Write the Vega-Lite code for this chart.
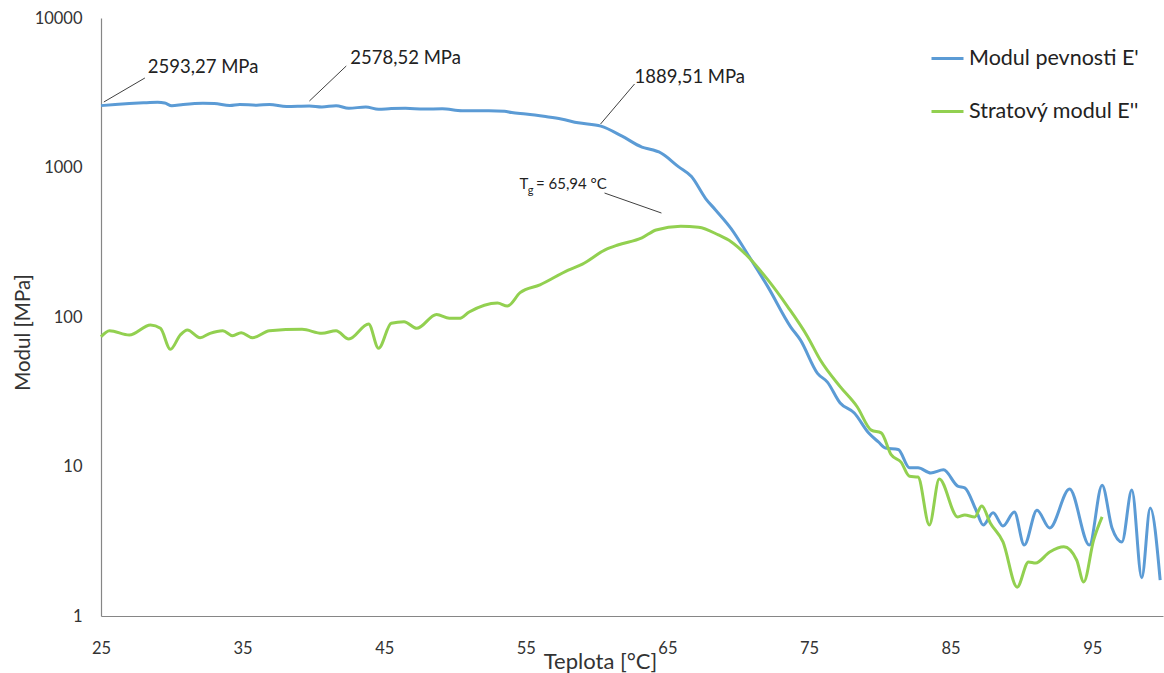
{
  "$schema": "https://vega.github.io/schema/vega-lite/v6.json",
  "width": 1062,
  "height": 598,
  "autosize": {"type": "none"},
  "padding": {"left": 101, "top": 18, "right": 1, "bottom": 57},
  "background": "white",
  "config": {
    "view": {"stroke": null},
    "font": "Lato",
    "axis": {
      "grid": false,
      "ticks": false,
      "domainColor": "#868686",
      "domainWidth": 1.2,
      "labelFont": "Lato",
      "labelFontSize": 16.5,
      "labelColor": "#333333",
      "labelFlush": false,
      "labelOverlap": false,
      "titleFont": "Lato",
      "titleFontWeight": "normal",
      "titleColor": "#333333"
    },
    "legend": {
      "labelFont": "Lato",
      "labelFontSize": 21.5,
      "labelColor": "#222222",
      "labelLimit": 0
    }
  },
  "datasets": {
    "moduly": [
      {"T": 25.0, "E": 2593.27, "serie": "Modul pevnosti E'"},
      {"T": 26.0, "E": 2640, "serie": "Modul pevnosti E'"},
      {"T": 27.0, "E": 2680, "serie": "Modul pevnosti E'"},
      {"T": 28.0, "E": 2710, "serie": "Modul pevnosti E'"},
      {"T": 29.0, "E": 2730, "serie": "Modul pevnosti E'"},
      {"T": 29.5, "E": 2700, "serie": "Modul pevnosti E'"},
      {"T": 30.0, "E": 2590, "serie": "Modul pevnosti E'"},
      {"T": 30.8, "E": 2640, "serie": "Modul pevnosti E'"},
      {"T": 32.2, "E": 2690, "serie": "Modul pevnosti E'"},
      {"T": 33.0, "E": 2680, "serie": "Modul pevnosti E'"},
      {"T": 34.1, "E": 2600, "serie": "Modul pevnosti E'"},
      {"T": 34.8, "E": 2640, "serie": "Modul pevnosti E'"},
      {"T": 36.0, "E": 2610, "serie": "Modul pevnosti E'"},
      {"T": 36.9, "E": 2640, "serie": "Modul pevnosti E'"},
      {"T": 38.1, "E": 2560, "serie": "Modul pevnosti E'"},
      {"T": 39.7, "E": 2578.52, "serie": "Modul pevnosti E'"},
      {"T": 40.6, "E": 2540, "serie": "Modul pevnosti E'"},
      {"T": 41.6, "E": 2590, "serie": "Modul pevnosti E'"},
      {"T": 42.5, "E": 2490, "serie": "Modul pevnosti E'"},
      {"T": 43.7, "E": 2540, "serie": "Modul pevnosti E'"},
      {"T": 44.6, "E": 2450, "serie": "Modul pevnosti E'"},
      {"T": 45.5, "E": 2480, "serie": "Modul pevnosti E'"},
      {"T": 46.5, "E": 2490, "serie": "Modul pevnosti E'"},
      {"T": 47.8, "E": 2460, "serie": "Modul pevnosti E'"},
      {"T": 49.1, "E": 2470, "serie": "Modul pevnosti E'"},
      {"T": 50.5, "E": 2400, "serie": "Modul pevnosti E'"},
      {"T": 52.4, "E": 2400, "serie": "Modul pevnosti E'"},
      {"T": 53.5, "E": 2380, "serie": "Modul pevnosti E'"},
      {"T": 54.0, "E": 2330, "serie": "Modul pevnosti E'"},
      {"T": 55.0, "E": 2280, "serie": "Modul pevnosti E'"},
      {"T": 56.4, "E": 2190, "serie": "Modul pevnosti E'"},
      {"T": 57.5, "E": 2110, "serie": "Modul pevnosti E'"},
      {"T": 58.7, "E": 1990, "serie": "Modul pevnosti E'"},
      {"T": 60.3, "E": 1889.51, "serie": "Modul pevnosti E'"},
      {"T": 61.8, "E": 1620, "serie": "Modul pevnosti E'"},
      {"T": 63.2, "E": 1370, "serie": "Modul pevnosti E'"},
      {"T": 64.0, "E": 1310, "serie": "Modul pevnosti E'"},
      {"T": 64.4, "E": 1270, "serie": "Modul pevnosti E'"},
      {"T": 65.8, "E": 1010, "serie": "Modul pevnosti E'"},
      {"T": 66.7, "E": 870, "serie": "Modul pevnosti E'"},
      {"T": 67.7, "E": 620, "serie": "Modul pevnosti E'"},
      {"T": 68.4, "E": 520, "serie": "Modul pevnosti E'"},
      {"T": 69.5, "E": 390, "serie": "Modul pevnosti E'"},
      {"T": 70.7, "E": 260, "serie": "Modul pevnosti E'"},
      {"T": 72.1, "E": 159, "serie": "Modul pevnosti E'"},
      {"T": 73.7, "E": 86, "serie": "Modul pevnosti E'"},
      {"T": 74.4, "E": 70, "serie": "Modul pevnosti E'"},
      {"T": 75.6, "E": 42, "serie": "Modul pevnosti E'"},
      {"T": 76.3, "E": 36.7, "serie": "Modul pevnosti E'"},
      {"T": 77.2, "E": 26.6, "serie": "Modul pevnosti E'"},
      {"T": 78.2, "E": 22.8, "serie": "Modul pevnosti E'"},
      {"T": 79.2, "E": 16.8, "serie": "Modul pevnosti E'"},
      {"T": 79.9, "E": 14.6, "serie": "Modul pevnosti E'"},
      {"T": 80.4, "E": 13.3, "serie": "Modul pevnosti E'"},
      {"T": 81.3, "E": 13.0, "serie": "Modul pevnosti E'"},
      {"T": 82.1, "E": 9.8, "serie": "Modul pevnosti E'"},
      {"T": 82.7, "E": 9.8, "serie": "Modul pevnosti E'"},
      {"T": 83.6, "E": 9.05, "serie": "Modul pevnosti E'"},
      {"T": 84.5, "E": 9.5, "serie": "Modul pevnosti E'"},
      {"T": 85.5, "E": 7.4, "serie": "Modul pevnosti E'"},
      {"T": 86.0, "E": 7.2, "serie": "Modul pevnosti E'"},
      {"T": 86.8, "E": 5.1, "serie": "Modul pevnosti E'"},
      {"T": 87.3, "E": 4.06, "serie": "Modul pevnosti E'"},
      {"T": 88.0, "E": 4.9, "serie": "Modul pevnosti E'"},
      {"T": 88.7, "E": 4.0, "serie": "Modul pevnosti E'"},
      {"T": 89.5, "E": 4.96, "serie": "Modul pevnosti E'"},
      {"T": 90.2, "E": 2.98, "serie": "Modul pevnosti E'"},
      {"T": 91.1, "E": 5.1, "serie": "Modul pevnosti E'"},
      {"T": 92.0, "E": 3.88, "serie": "Modul pevnosti E'"},
      {"T": 93.4, "E": 7.07, "serie": "Modul pevnosti E'"},
      {"T": 94.8, "E": 2.98, "serie": "Modul pevnosti E'"},
      {"T": 95.7, "E": 7.5, "serie": "Modul pevnosti E'"},
      {"T": 96.4, "E": 3.88, "serie": "Modul pevnosti E'"},
      {"T": 97.1, "E": 3.13, "serie": "Modul pevnosti E'"},
      {"T": 97.8, "E": 6.96, "serie": "Modul pevnosti E'"},
      {"T": 98.5, "E": 1.8, "serie": "Modul pevnosti E'"},
      {"T": 99.1, "E": 5.28, "serie": "Modul pevnosti E'"},
      {"T": 99.8, "E": 1.74, "serie": "Modul pevnosti E'"},

      {"T": 25.0, "E": 73.8, "serie": "Stratový modul E''"},
      {"T": 25.6, "E": 81, "serie": "Stratový modul E''"},
      {"T": 27.0, "E": 75.8, "serie": "Stratový modul E''"},
      {"T": 28.5, "E": 88.4, "serie": "Stratový modul E''"},
      {"T": 29.2, "E": 84, "serie": "Stratový modul E''"},
      {"T": 29.9, "E": 60.8, "serie": "Stratový modul E''"},
      {"T": 30.6, "E": 75.8, "serie": "Stratový modul E''"},
      {"T": 31.1, "E": 81.9, "serie": "Stratový modul E''"},
      {"T": 32.0, "E": 72.7, "serie": "Stratový modul E''"},
      {"T": 32.7, "E": 77.8, "serie": "Stratový modul E''"},
      {"T": 33.6, "E": 81, "serie": "Stratový modul E''"},
      {"T": 34.3, "E": 75, "serie": "Stratový modul E''"},
      {"T": 34.9, "E": 78.5, "serie": "Stratový modul E''"},
      {"T": 35.7, "E": 72.7, "serie": "Stratový modul E''"},
      {"T": 36.9, "E": 81, "serie": "Stratový modul E''"},
      {"T": 39.2, "E": 82.7, "serie": "Stratový modul E''"},
      {"T": 40.6, "E": 77.8, "serie": "Stratový modul E''"},
      {"T": 41.6, "E": 81, "serie": "Stratový modul E''"},
      {"T": 42.5, "E": 71.2, "serie": "Stratový modul E''"},
      {"T": 43.9, "E": 89.8, "serie": "Stratový modul E''"},
      {"T": 44.6, "E": 61.7, "serie": "Stratový modul E''"},
      {"T": 45.5, "E": 90.8, "serie": "Stratový modul E''"},
      {"T": 46.4, "E": 93, "serie": "Stratový modul E''"},
      {"T": 47.3, "E": 84, "serie": "Stratový modul E''"},
      {"T": 48.7, "E": 104, "serie": "Stratový modul E''"},
      {"T": 49.6, "E": 98, "serie": "Stratový modul E''"},
      {"T": 50.3, "E": 98, "serie": "Stratový modul E''"},
      {"T": 51.0, "E": 108, "serie": "Stratový modul E''"},
      {"T": 53.0, "E": 124, "serie": "Stratový modul E''"},
      {"T": 53.7, "E": 118.5, "serie": "Stratový modul E''"},
      {"T": 54.6, "E": 145.5, "serie": "Stratový modul E''"},
      {"T": 56.0, "E": 164, "serie": "Stratový modul E''"},
      {"T": 58.0, "E": 206, "serie": "Stratový modul E''"},
      {"T": 59.0, "E": 226, "serie": "Stratový modul E''"},
      {"T": 60.6, "E": 281, "serie": "Stratový modul E''"},
      {"T": 61.5, "E": 303, "serie": "Stratový modul E''"},
      {"T": 63.2, "E": 338, "serie": "Stratový modul E''"},
      {"T": 64.2, "E": 382, "serie": "Stratový modul E''"},
      {"T": 65.94, "E": 404, "serie": "Stratový modul E''"},
      {"T": 67.2, "E": 398, "serie": "Stratový modul E''"},
      {"T": 68.6, "E": 354, "serie": "Stratový modul E''"},
      {"T": 69.5, "E": 319, "serie": "Stratový modul E''"},
      {"T": 70.7, "E": 253, "serie": "Stratový modul E''"},
      {"T": 72.1, "E": 177, "serie": "Stratový modul E''"},
      {"T": 73.5, "E": 117, "serie": "Stratový modul E''"},
      {"T": 74.9, "E": 73.8, "serie": "Stratový modul E''"},
      {"T": 75.8, "E": 51.5, "serie": "Stratový modul E''"},
      {"T": 77.2, "E": 34.2, "serie": "Stratový modul E''"},
      {"T": 78.4, "E": 25.1, "serie": "Stratový modul E''"},
      {"T": 79.4, "E": 17.5, "serie": "Stratový modul E''"},
      {"T": 80.1, "E": 16.8, "serie": "Stratový modul E''"},
      {"T": 80.8, "E": 12.0, "serie": "Stratový modul E''"},
      {"T": 81.5, "E": 10.7, "serie": "Stratový modul E''"},
      {"T": 82.1, "E": 8.6, "serie": "Stratový modul E''"},
      {"T": 82.7, "E": 8.5, "serie": "Stratový modul E''"},
      {"T": 83.5, "E": 4.06, "serie": "Stratový modul E''"},
      {"T": 84.2, "E": 8.25, "serie": "Stratový modul E''"},
      {"T": 85.5, "E": 4.6, "serie": "Stratový modul E''"},
      {"T": 86.0, "E": 4.74, "serie": "Stratový modul E''"},
      {"T": 86.7, "E": 4.6, "serie": "Stratový modul E''"},
      {"T": 87.2, "E": 5.44, "serie": "Stratový modul E''"},
      {"T": 87.8, "E": 4.19, "serie": "Stratový modul E''"},
      {"T": 88.7, "E": 3.13, "serie": "Stratový modul E''"},
      {"T": 89.7, "E": 1.56, "serie": "Stratový modul E''"},
      {"T": 90.5, "E": 2.3, "serie": "Stratový modul E''"},
      {"T": 91.0, "E": 2.26, "serie": "Stratový modul E''"},
      {"T": 92.0, "E": 2.68, "serie": "Stratový modul E''"},
      {"T": 93.0, "E": 2.9, "serie": "Stratový modul E''"},
      {"T": 93.9, "E": 2.37, "serie": "Stratový modul E''"},
      {"T": 94.4, "E": 1.69, "serie": "Stratový modul E''"},
      {"T": 95.1, "E": 3.22, "serie": "Stratový modul E''"},
      {"T": 95.7, "E": 4.6, "serie": "Stratový modul E''"}
    ],
    "odkazy": [
      {"T": 25.2, "E": 2743, "T2": 28.1, "E2": 3970},
      {"T": 39.72, "E": 2786, "T2": 42.32, "E2": 4775},
      {"T": 60.28, "E": 1954, "T2": 62.68, "E2": 3620},
      {"T": 60.56, "E": 675, "T2": 64.58, "E2": 496}
    ],
    "popisky": [
      {"T": 28.31, "E": 4700, "text": "2593,27 MPa"},
      {"T": 42.61, "E": 5400, "text": "2578,52 MPa"},
      {"T": 62.68, "E": 4030, "text": "1889,51 MPa"}
    ]
  },
  "encoding": {
    "x": {
      "field": "T",
      "type": "quantitative",
      "scale": {"domain": [25, 100], "nice": false, "zero": false},
      "axis": {
        "values": [25, 35, 45, 55, 65, 75, 85, 95],
        "labelPadding": 24,
        "title": "Teplota [°C]",
        "titleFontSize": 22,
        "titleX": 499,
        "titleY": 52,
        "titleBaseline": "alphabetic",
        "titleAnchor": null,
        "titleAlign": "center"
      }
    },
    "y": {
      "field": "E",
      "type": "quantitative",
      "scale": {"type": "log", "domain": [1, 10000], "nice": false},
      "axis": {
        "values": [1, 10, 100, 1000, 10000],
        "format": "d",
        "labelPadding": 19,
        "title": "Modul [MPa]",
        "titleFontSize": 20.5,
        "titleAngle": -90,
        "titleX": -72,
        "titleY": 314,
        "titleAlign": "center",
        "titleBaseline": "alphabetic",
        "titleAnchor": null
      }
    }
  },
  "layer": [
    {
      "data": {"name": "moduly"},
      "mark": {"type": "line", "interpolate": "monotone", "strokeWidth": 3},
      "encoding": {
        "color": {
          "field": "serie",
          "type": "nominal",
          "scale": {
            "domain": ["Modul pevnosti E'", "Stratový modul E''"],
            "range": ["#5B9BD5", "#92D050"]
          },
          "legend": {
            "title": null,
            "orient": "none",
            "legendX": 829,
            "legendY": 23,
            "symbolType": "stroke",
            "symbolSize": 1024,
            "symbolStrokeWidth": 3,
            "labelOffset": 4,
            "rowPadding": 25
          }
        }
      }
    },
    {
      "data": {"name": "odkazy"},
      "mark": {"type": "rule", "color": "#404040", "strokeWidth": 1},
      "encoding": {
        "x2": {"field": "T2"},
        "y2": {"field": "E2"}
      }
    },
    {
      "data": {"name": "popisky"},
      "mark": {"type": "text", "align": "left", "baseline": "middle", "fontSize": 18.5, "color": "#222222"},
      "encoding": {"text": {"field": "text"}}
    },
    {
      "data": {"values": [{"T": 54.55, "E": 780, "text": "T"}]},
      "mark": {"type": "text", "align": "left", "baseline": "middle", "fontSize": 15, "color": "#222222"},
      "encoding": {"text": {"field": "text"}}
    },
    {
      "data": {"values": [{"T": 55.14, "E": 700, "text": "g"}]},
      "mark": {"type": "text", "align": "left", "baseline": "middle", "fontSize": 11, "color": "#222222"},
      "encoding": {"text": {"field": "text"}}
    },
    {
      "data": {"values": [{"T": 55.72, "E": 780, "text": "= 65,94 °C"}]},
      "mark": {"type": "text", "align": "left", "baseline": "middle", "fontSize": 15, "color": "#222222"},
      "encoding": {"text": {"field": "text"}}
    }
  ]
}
